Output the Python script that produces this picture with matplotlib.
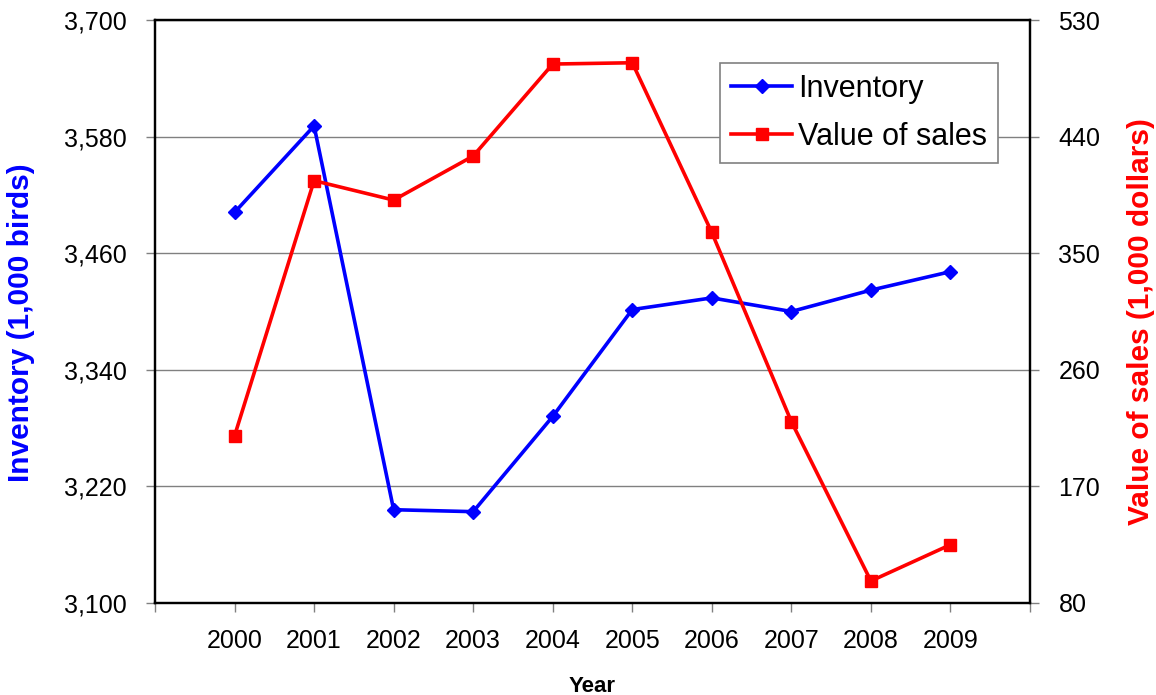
import matplotlib
matplotlib.use("Agg")
import matplotlib.pyplot as plt
from matplotlib.ticker import FuncFormatter

plt.rcParams['font.family'] = ['Liberation Sans', 'DejaVu Sans']

years = [2000, 2001, 2002, 2003, 2004, 2005, 2006, 2007, 2008, 2009]
inventory = [3502, 3591, 3196, 3194, 3292, 3402, 3414, 3400, 3422, 3441]
sales = [209, 406, 391, 425, 496, 497, 366, 220, 97, 125]

left_ticks = [3100, 3220, 3340, 3460, 3580, 3700]
right_ticks = [80, 170, 260, 350, 440, 530]

fig = plt.figure(figsize=(11.56, 6.95), dpi=100)
ax = fig.add_axes([155 / 1156, 92 / 695, 875 / 1156, 583 / 695])
ax2 = ax.twinx()

# inventory on the left axis
ln1, = ax.plot(years, inventory, color='#0000ff', lw=2.6, marker='D', ms=7,
               label='Inventory', zorder=3)
# sales on the right axis
ln2, = ax2.plot(years, sales, color='#ff0000', lw=2.6, marker='s', ms=9,
                label='Value of sales', zorder=3)

ax.set_xlim(1999, 2010)
ax.set_xticks(range(1999, 2011))
ax.set_xticklabels([''] + [str(y) for y in years] + [''])
ax.set_ylim(3100, 3700)
ax.set_yticks(left_ticks)
ax.yaxis.set_major_formatter(FuncFormatter(lambda v, p: f"{int(v):,}"))
ax2.set_ylim(80, 530)
ax2.set_yticks(right_ticks)

ax.grid(axis='y', color='#808080', lw=1)
ax.set_axisbelow(True)

for a in (ax, ax2):
    a.tick_params(direction='out', length=6.5, width=1, color='#808080',
                  labelsize=18)
    for s in a.spines.values():
        s.set_linewidth(1.6)
ax.tick_params(axis='x', pad=12)
ax.tick_params(axis='y', pad=14)
ax2.tick_params(axis='y', pad=14)

ax.set_ylabel('Inventory (1,000 birds)', color='#0000ff', fontsize=21.5,
              fontweight='bold')
ax.yaxis.set_label_coords(-0.137, 0.48)
ax2.set_ylabel('Value of sales (1,000 dollars)', color='#ff0000', fontsize=21.5,
               fontweight='bold')
ax2.yaxis.set_label_coords(1.111, 0.483)
ax.set_xlabel('Year', fontsize=16, fontweight='bold', labelpad=17)

leg = ax2.legend(handles=[ln1, ln2], loc='upper left',
                 bbox_to_anchor=(0.646, 0.926), fontsize=22, fancybox=False,
                 framealpha=1, edgecolor='#808080', borderpad=0.35,
                 handlelength=2.0, handletextpad=0.2, labelspacing=0.6,
                 borderaxespad=0)
leg.get_frame().set_linewidth(1.2)

fig.savefig('out.png', dpi=100)
